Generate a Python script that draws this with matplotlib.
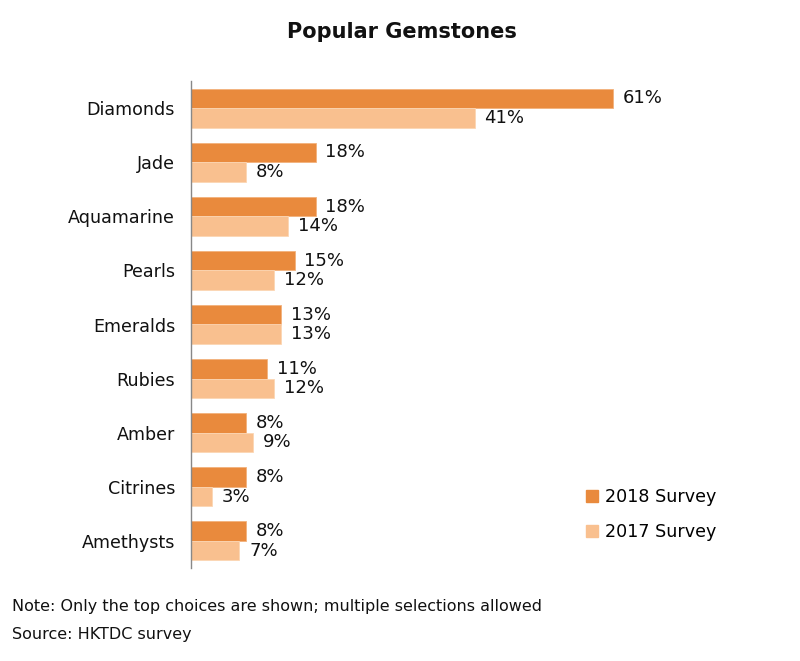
import matplotlib
matplotlib.use("Agg")
import matplotlib.pyplot as plt
from matplotlib.patches import Patch
import numpy as np

categories = ["Diamonds", "Jade", "Aquamarine", "Pearls", "Emeralds", "Rubies", "Amber", "Citrines", "Amethysts"]
survey_2018 = [61, 18, 18, 15, 13, 11, 8, 8, 8]
survey_2017 = [41, 8, 14, 12, 13, 12, 9, 3, 7]
series_names = ["2018 Survey", "2017 Survey"]
colors = ["#E98A3D", "#F9C08F"]

plt.rcParams['font.family'] = ['DejaVu Sans']

fig = plt.figure(figsize=(8, 6.61), dpi=100)
ax = fig.add_axes([191/800, 1-568/661, (760-191)/800, (568-81)/661])

y = np.arange(len(categories))
h = 0.36
ax.barh(y - h/2, survey_2018, height=h, color=colors[0], edgecolor="#F2B27C", linewidth=0.6)
ax.barh(y + h/2, survey_2017, height=h, color=colors[1], edgecolor="#FCD6B4", linewidth=0.6)

for yy, v in zip(y - h/2, survey_2018):
    ax.text(v + 1.4, yy, f"{v}%", va="center", ha="left", fontsize=13, color="#111111")
for yy, v in zip(y + h/2, survey_2017):
    ax.text(v + 1.4, yy, f"{v}%", va="center", ha="left", fontsize=13, color="#111111")

ax.set_ylim(len(categories) - 0.5, -0.5)
ax.set_xlim(0, 569/6.92)
ax.set_yticks(y)
ax.set_yticklabels(categories, fontsize=12.6, color="#111111")
ax.tick_params(axis="y", length=0, pad=11.5)
ax.set_xticks([])
for s in ["top", "right", "bottom"]:
    ax.spines[s].set_visible(False)
ax.spines["left"].set_color("#888888")
ax.spines["left"].set_linewidth(1)

handles = [Patch(color=colors[0]), Patch(color=colors[1])]
fig.legend(handles, series_names, loc="upper left", bbox_to_anchor=(570/800, 1-472/661),
           frameon=False, fontsize=12.6, handlelength=0.7, handleheight=0.7,
           handletextpad=0.4, labelspacing=1.0)

fig.text(402/800, 1-32/661, "Popular Gemstones", ha="center", va="center",
         fontsize=15, fontweight="bold", color="#111111")
fig.text(12/800, 1-607/661, "Note: Only the top choices are shown; multiple selections allowed",
         ha="left", va="center", fontsize=11.5, color="#111111")
fig.text(12/800, 1-635/661, "Source: HKTDC survey", ha="left", va="center", fontsize=11.5, color="#111111")

fig.savefig("out.png", dpi=100)
